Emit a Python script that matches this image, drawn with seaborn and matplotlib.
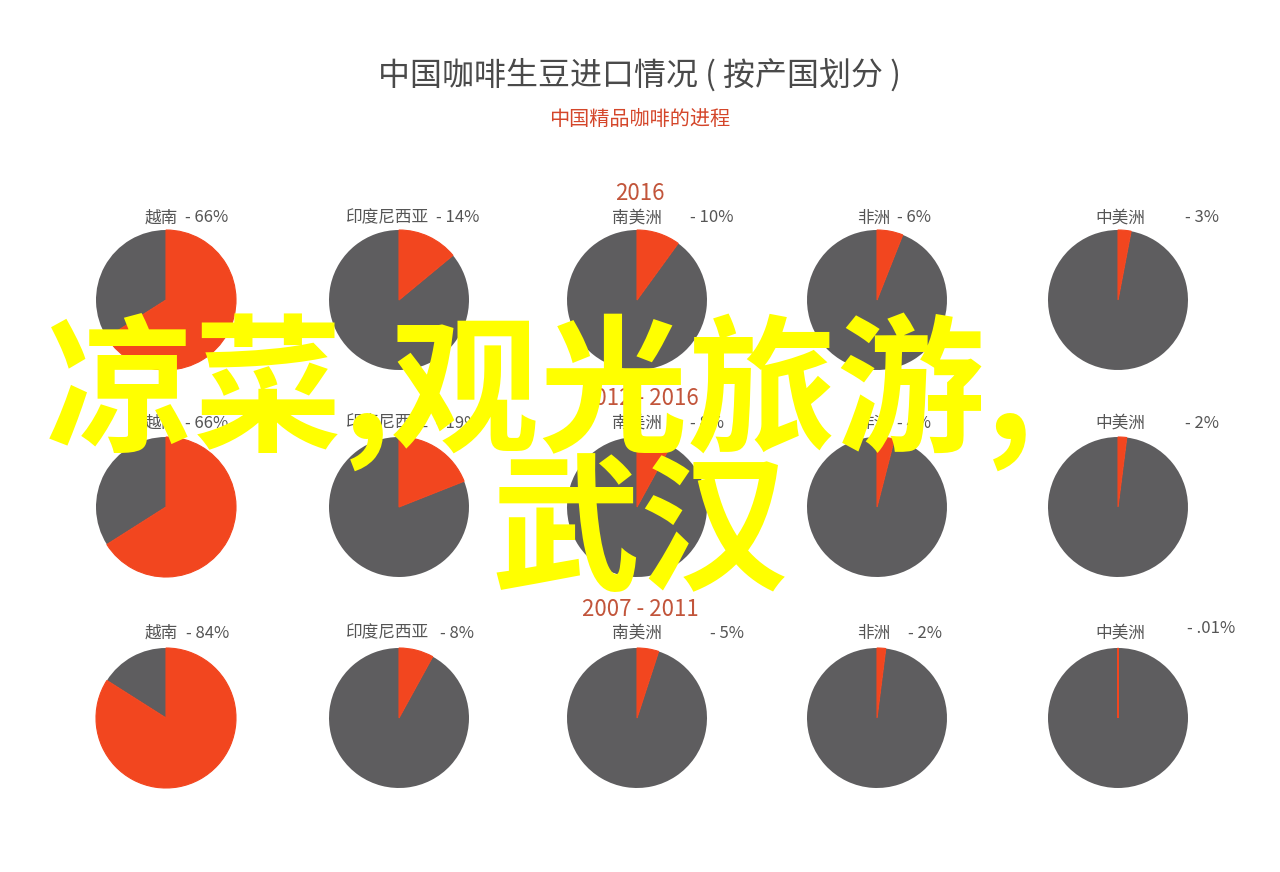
import matplotlib
matplotlib.use('Agg')
import matplotlib.pyplot as plt
import seaborn as sns

# data
regions = ['越南', '印度尼西亚', '南美洲', '非洲', '中美洲']
periods = ['2016', '2012 - 2016', '2007 - 2011']
share_2016 = [66, 14, 10, 6, 3]
share_2012_2016 = [66, 19, 8, 4, 2]
share_2007_2011 = [84, 8, 5, 2, 0.01]
pct_2016 = ['66%', '14%', '10%', '6%', '3%']
pct_2012_2016 = ['66%', '19%', '8%', '4%', '2%']
pct_2007_2011 = ['84%', '8%', '5%', '2%', '.01%']
title = '中国咖啡生豆进口情况 ( 按产国划分 )'
subtitle = '中国精品咖啡的进程'
overlay_1 = '凉菜,观光旅游,'
overlay_2 = '武汉'

shares = [share_2016, share_2012_2016, share_2007_2011]
pcts = [pct_2016, pct_2012_2016, pct_2007_2011]

sns.set_theme(style='white')
plt.rcParams['font.family'] = ['Noto Sans CJK SC', 'DejaVu Sans']

RED = '#f2461f'
GREY = '#5e5d5f'
TXT = '#555555'
W, H = 1280, 872

fig = plt.figure(figsize=(12.8, 8.72), dpi=100)
fig.patch.set_facecolor('white')


def fx(x):
    return x / W


def fy(y):
    return 1 - y / H


# layout (pixels)
col_x = [166, 399, 637, 877, 1118]
row_y = [300, 507, 718]
period_y = [193, 398, 609]
label_y = [218, 423, 633]
name_x = [161, 388, 637, 874, 1120]
pct_x = [[185, 436, 690, 897, 1185],
         [185, 436, 690, 897, 1185],
         [186, 440, 710, 908, 1187]]
r = 70

fig.text(fx(640), fy(75), title, ha='center', va='center', fontsize=23, color='#4a4a4a')
fig.text(fx(640), fy(119), subtitle, ha='center', va='center', fontsize=14.5, color='#d4462a')

for i, period in enumerate(periods):
    fig.text(fx(640), fy(period_y[i]), period, ha='center', va='center',
             fontsize=16, color='#c2553b')
    for j, region in enumerate(regions):
        v = shares[i][j]
        ax = fig.add_axes([fx(col_x[j] - r), fy(row_y[i] + r), 2 * r / W, 2 * r / H])
        wedges, _ = ax.pie([v, 100 - v], colors=[RED, GREY], startangle=90,
                           counterclock=False, wedgeprops=dict(linewidth=0))
        wedges[0].set_edgecolor(RED)
        wedges[0].set_linewidth(0.8)
        wedges[0].set_zorder(3)
        ax.set_xlim(-1, 1)
        ax.set_ylim(-1, 1)
        ax.set_aspect('equal')
        ax.axis('off')
        ly = label_y[i]
        if i == 2 and j == 4:
            ly -= 5
        fig.text(fx(name_x[j]), fy(label_y[i]), region, ha='center', va='center',
                 fontsize=12, color=TXT)
        fig.text(fx(pct_x[i][j]), fy(ly), '- ' + pcts[i][j], ha='left', va='center',
                 fontsize=12, color=TXT)

fig.text(fx(46), fy(392), overlay_1, ha='left', va='center', fontsize=107,
         fontweight='bold', color='#ffff00', zorder=10)
fig.text(fx(640), fy(536), overlay_2, ha='center', va='center', fontsize=107,
         fontweight='bold', color='#ffff00', zorder=10)

fig.savefig('out.png', dpi=100, facecolor='white')
